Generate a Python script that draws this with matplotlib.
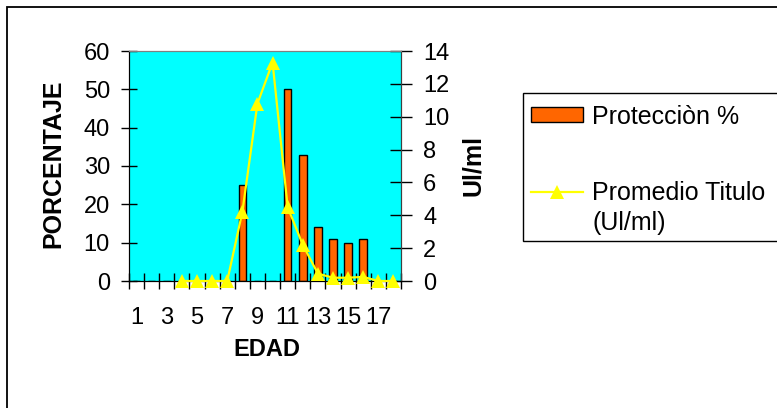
import matplotlib
matplotlib.use("Agg")
import matplotlib.pyplot as plt
import matplotlib.patches as mpatches
from matplotlib.ticker import FixedLocator, NullFormatter, FixedFormatter

plt.rcParams['font.family'] = ['Liberation Sans', 'DejaVu Sans']

# ---- data ----
edad = list(range(1, 19))
proteccion = [0, 0, 0, 0, 0, 0, 0, 25, 0, 0, 50, 33, 14, 11, 10, 11, 0, 0]
titulo_x = [4, 5, 6, 7, 8, 9, 10, 11, 12, 13, 14, 15, 16, 17, 18]
titulo = [0, 0, 0, 0, 4.2, 10.8, 13.3, 4.5, 2.2, 0.45, 0.2, 0.2, 0.25, 0, 0]
xtick_labels = [str(v) if v % 2 == 1 else '' for v in edad]
left_ticks = [0, 10, 20, 30, 40, 50, 60]
right_ticks = [0, 2, 4, 6, 8, 10, 12, 14]

W, H = 777, 408
fig = plt.figure(figsize=(W / 100, H / 100), dpi=100)
fig.patch.set_facecolor('white')

# outer frame
fig.patches.append(mpatches.Rectangle((7 / W, -0.1), 1.5, (H - 7) / H + 0.1,
                                      transform=fig.transFigure, fill=False,
                                      edgecolor='black', lw=1.3))

L, R, T, B = 129, 401, 51, 281
ax = fig.add_axes([L / W, 1 - B / H, (R - L) / W, (B - T) / H])
ax.set_facecolor('#00FFFF')
bars = ax.bar(edad, proteccion, width=0.5, color='#FF6600', edgecolor='black',
              linewidth=1.0, label='Protecciòn %', zorder=2)
ax.set_xlim(0.5, 18.5)
ax.set_ylim(0, 60)
ax.set_yticks(left_ticks)
ax.tick_params(axis='y', direction='inout', length=11.5, width=1, labelsize=17, pad=8)

# x ticks: marks at category boundaries, labels at categories
ax.xaxis.set_major_locator(FixedLocator([i + 0.5 for i in range(0, 19)]))
ax.xaxis.set_major_formatter(NullFormatter())
ax.xaxis.set_minor_locator(FixedLocator(edad))
ax.xaxis.set_minor_formatter(FixedFormatter(xtick_labels))
ax.tick_params(axis='x', which='major', direction='inout', length=11, width=1)
ax.tick_params(axis='x', which='minor', length=0, labelsize=17, pad=19)

for s in ['left', 'bottom']:
    ax.spines[s].set_color('black')
ax.spines['top'].set_color('#808080')
ax.spines['right'].set_color('#404040')

ax.set_ylabel('PORCENTAJE', fontsize=18, fontweight='bold')
ax.yaxis.label.set_va('center')
ax.yaxis.set_label_coords(-0.279, 0.511)
ax.set_xlabel('EDAD', fontsize=17, fontweight='bold')
ax.xaxis.label.set_va('center')
ax.xaxis.set_label_coords(0.507, -0.296)

ax2 = ax.twinx()
ax2.set_ylim(0, 14)
ax2.set_yticks(right_ticks)
ax2.tick_params(axis='y', direction='inout', length=16, width=1, labelsize=17, pad=8)
line, = ax2.plot(titulo_x, titulo, color='#FFFF00', lw=1.6, marker='^',
                 markersize=10, markeredgewidth=0, clip_on=False,
                 label='Promedio Titulo', zorder=3)
ax2.spines['top'].set_color('#808080')
ax2.spines['right'].set_color('#404040')
ax2.set_ylabel('Ul/ml', fontsize=18, fontweight='bold', rotation=90)
ax2.yaxis.label.set_va('center')
ax2.yaxis.set_label_coords(1.265, 0.504)

# legend frame (extends beyond the right edge, as in the reference)
fig.patches.append(mpatches.Rectangle((523 / W, 1 - 241 / H), 0.5, (241 - 93) / H,
                                      transform=fig.transFigure, facecolor='white',
                                      edgecolor='black', lw=1.0, zorder=0))
leg = fig.legend([bars, line], ['Protecciòn %', 'Promedio Titulo'],
                 loc='upper left', bbox_to_anchor=(519 / W, 1 - 93 / H),
                 bbox_transform=fig.transFigure, borderaxespad=0,
                 fontsize=18, frameon=False, borderpad=0.46,
                 labelspacing=2.12, handlelength=2.1, handletextpad=0.36,
                 handleheight=0.55)
fig.text(593 / W, 1 - 223 / H, '(Ul/ml)', fontsize=18, ha='left', va='center')

fig.savefig('out.png', dpi=100, facecolor='white')
